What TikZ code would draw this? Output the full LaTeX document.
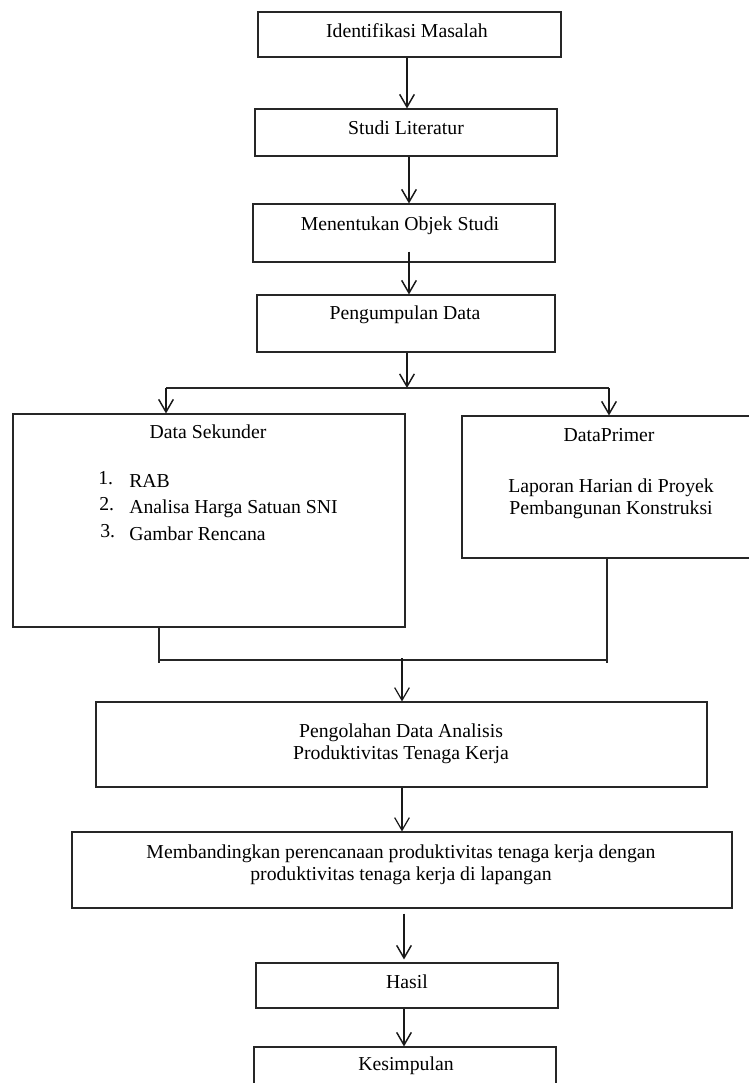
\documentclass[tikz,border=0pt]{standalone}
\usepackage{fontspec}
\setmainfont{Liberation Serif}
\usetikzlibrary{arrows.meta,fit,calc}
\begin{document}
\begin{tikzpicture}[x=0.75pt,y=-0.75pt,
  box/.style={draw=black!85, line width=0.8pt, inner sep=0pt, fit={#1}},
  txt/.style={font=\fontsize{14.8pt}{16.5pt}\selectfont, inner sep=0pt, align=center, text=black},
  one/.style={txt, text height=0.68em, text depth=0.22em},
  arr/.style={draw=black!90, line width=1.4pt, -{Straight Barb[length=9.5pt,width=11pt,line width=1.1pt]}},
  tarr/.style={draw=black!90, line width=0.8pt, -{Straight Barb[length=9.5pt,width=11pt,line width=0.9pt]}},
  thick line/.style={draw=black!85, line width=1.5pt},
  thin line/.style={draw=black!85, line width=0.8pt}
]
\clip (0,0) rectangle (749,1083);
\fill[white] (0,0) rectangle (749,1083);

% boxes
\node[box={(258,12) (561,57)}]   (b1) {};
\node[box={(255,109) (557,156)}] (b2) {};
\node[box={(253,204) (555,262)}] (b3) {};
\node[box={(257,295) (555,352)}] (b4) {};
\node[box={(13,414) (405,627)}]  (b5) {};
\node[box={(462,416) (762,558)}] (b6) {};
\node[box={(96,702) (707,787)}]  (b7) {};
\node[box={(72,832) (732,908)}]  (b8) {};
\node[box={(256,963) (558,1008)}] (b9) {};
\node[box={(254,1047) (556,1100)}] (b10) {};

% texts
\node[one] (t1) at (407,34) {Identifikasi Masalah};
\node[one] (t2) at (406,131) {Studi Literatur};
\node[one] (t3) at (400,227) {Menentukan Objek Studi};
\node[one] (t4) at (405,316) {Pengumpulan Data};
\node[one] (t5) at (208,435) {Data Sekunder};
\node[one, anchor=west] (n1) at (98,481.5) {1.};
\node[one, anchor=west] (n2) at (99,507.5) {2.};
\node[one, anchor=west] (n3) at (100,534.5) {3.};
\node[one, anchor=west] (l1) at (129,484) {RAB};
\node[one, anchor=west] (l2) at (129,510) {Analisa Harga Satuan SNI};
\node[one, anchor=west] (l3) at (129,537) {Gambar Rencana};
\node[one] (t6) at (609,438) {DataPrimer};
\node[txt] (t7) at (611,499) {Laporan Harian di Proyek\\Pembangunan Konstruksi};
\node[txt] (t8) at (401,744) {Pengolahan Data Analisis\\Produktivitas Tenaga Kerja};
\node[txt] (t9) at (401,865) {Membandingkan perencanaan produktivitas tenaga kerja dengan\\produktivitas tenaga kerja di lapangan};
\node[one] (t10) at (407,985) {Hasil};
\node[one] (t11) at (406,1067) {Kesimpulan};

% junction coordinates
\coordinate (s0) at (407,388);
\coordinate (sL) at (166,388);
\coordinate (sR) at (609,388);
\coordinate (jL) at (159,660);
\coordinate (jR) at (607,660);
\coordinate (jM) at (402,660);

% connectors
\draw[arr] (407,0 |- b1.south) -- (407,0 |- b2.north);
\draw[arr] (409,0 |- b2.south) -- (409,0 |- b3.north);
\draw[arr] ($(409,0 |- b3.south)+(0,-11)$) -- (409,0 |- b4.north);
\draw[arr] (407,0 |- b4.south) -- (s0);
\draw[thick line] (sL) -- (sR);
\draw[arr] (sL) -- (166,0 |- b5.north);
\draw[arr] (sR) -- (609,0 |- b6.north);
\draw[thin line] (159,0 |- b5.south) -- ($(jL)+(0,3)$);
\draw[thin line] (607,0 |- b6.south) -- ($(jR)+(0,3)$);
\draw[thick line] (jL) -- (jR);
\draw[tarr] ($(jM)+(0,-2)$) -- (402,0 |- b7.north);
\draw[tarr] (402,0 |- b7.south) -- (402,0 |- b8.north);
\draw[arr] ($(404,0 |- b8.south)+(0,5)$) -- ($(404,0 |- b9.north)+(0,-3)$);
\draw[arr] (404,0 |- b9.south) -- (404,0 |- b10.north);
\end{tikzpicture}
\end{document}
